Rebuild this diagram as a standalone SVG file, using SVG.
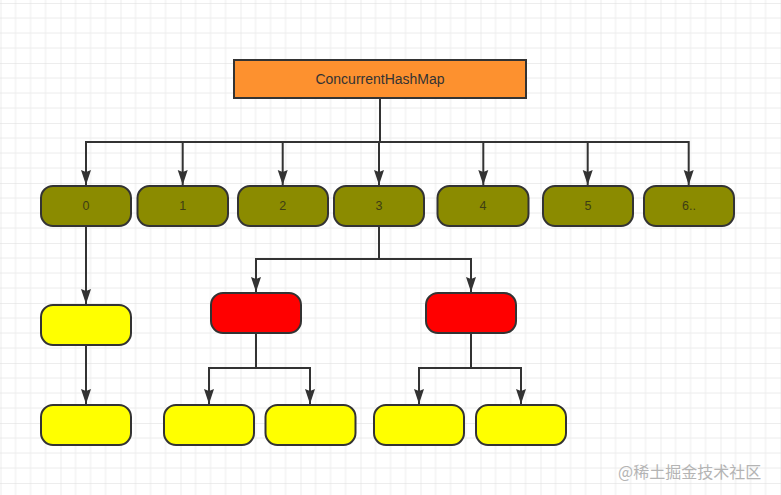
<svg xmlns="http://www.w3.org/2000/svg" width="781" height="495" viewBox="0 0 781 495">
  <defs>
    <pattern id="grid" x="0.5" y="3" width="60" height="60" patternUnits="userSpaceOnUse">
      <path d="M15 0V60M30 0V60M45 0V60M0 15H60M0 30H60M0 45H60" stroke="#ececec" stroke-width="1" fill="none"/>
      <path d="M0 0V60M0 0H60" stroke="#dcdcdc" stroke-width="1" fill="none"/>
    </pattern>
    <marker id="arr" markerUnits="userSpaceOnUse" markerWidth="16" markerHeight="12" refX="15" refY="6" orient="auto">
      <path d="M0 1L15 6L0 11L2 6Z" fill="#333"/>
    </marker>
    <style>
      .box{stroke:#333;stroke-width:2}
      .olive{fill:#8b8b00}
      .yellow{fill:#ffff00}
      .red{fill:#ff0000}
      .orange{fill:#fd912f}
      .lbl{font-family:"Liberation Sans",Arial,sans-serif;font-size:14px;fill:#333;text-anchor:middle;dominant-baseline:central}
      .num{font-family:"Liberation Sans",Arial,sans-serif;font-size:12.5px;fill:#3e3e14;text-anchor:middle;dominant-baseline:central}
      .conn path{stroke:#333;stroke-width:2;fill:none}
    </style>
  </defs>
  <rect width="781" height="495" fill="#fff"/>
  <rect width="781" height="495" fill="url(#grid)"/>

  <g id="connectors" class="conn">
    <path d="M380 98V142H86V185" marker-end="url(#arr)"/>
    <path d="M182.7 142V185" marker-end="url(#arr)"/>
    <path d="M282.7 142V185" marker-end="url(#arr)"/>
    <path d="M379 142V185" marker-end="url(#arr)"/>
    <path d="M380 142H688.7V185" marker-end="url(#arr)"/>
    <path d="M483.3 142V185" marker-end="url(#arr)"/>
    <path d="M587.7 142V185" marker-end="url(#arr)"/>
    <path d="M86 226V304" marker-end="url(#arr)"/>
    <path d="M86 345V404" marker-end="url(#arr)"/>
    <path d="M379 226V259H256V292" marker-end="url(#arr)"/>
    <path d="M379 259H471V292" marker-end="url(#arr)"/>
    <path d="M256 333V368H209V404" marker-end="url(#arr)"/>
    <path d="M256 368H310V404" marker-end="url(#arr)"/>
    <path d="M471 333V368H419V404" marker-end="url(#arr)"/>
    <path d="M471 368H521V404" marker-end="url(#arr)"/>
  </g>

  <g id="map">
    <rect class="box orange" x="234" y="60" width="292" height="38"/>
    <text class="lbl" x="380" y="79">ConcurrentHashMap</text>
  </g>

  <g id="bucket0"><rect class="box olive" x="41" y="186" width="90" height="40" rx="12"/><text class="num" x="86" y="206">0</text></g>
  <g id="bucket1"><rect class="box olive" x="137.5" y="186" width="90.5" height="40" rx="12"/><text class="num" x="182.7" y="206">1</text></g>
  <g id="bucket2"><rect class="box olive" x="238" y="186" width="90" height="40" rx="12"/><text class="num" x="282.7" y="206">2</text></g>
  <g id="bucket3"><rect class="box olive" x="334" y="186" width="90" height="40" rx="12"/><text class="num" x="379" y="206">3</text></g>
  <g id="bucket4"><rect class="box olive" x="437.5" y="186" width="91" height="40" rx="12"/><text class="num" x="483" y="206">4</text></g>
  <g id="bucket5"><rect class="box olive" x="543" y="186" width="90" height="40" rx="12"/><text class="num" x="588" y="206">5</text></g>
  <g id="bucket6"><rect class="box olive" x="644" y="186" width="90" height="40" rx="12"/><text class="num" x="689" y="206">6..</text></g>

  <g id="list0a"><rect class="box yellow" x="41" y="305" width="90" height="40" rx="12"/></g>
  <g id="list0b"><rect class="box yellow" x="41" y="405" width="90" height="40" rx="12"/></g>

  <g id="tree1"><rect class="box red" x="211" y="293" width="90" height="40" rx="12"/></g>
  <g id="tree2"><rect class="box red" x="426" y="293" width="90" height="40" rx="12"/></g>

  <g id="leaf1"><rect class="box yellow" x="164" y="405" width="90" height="40" rx="12"/></g>
  <g id="leaf2"><rect class="box yellow" x="265.5" y="405" width="90" height="40" rx="12"/></g>
  <g id="leaf3"><rect class="box yellow" x="374" y="405" width="90" height="40" rx="12"/></g>
  <g id="leaf4"><rect class="box yellow" x="476" y="405" width="90" height="40" rx="12"/></g>

  <text x="618" y="471" font-family="'Noto Sans CJK SC','Noto Sans',sans-serif" font-size="16" fill="#b4b4b4" dominant-baseline="central">@稀土掘金技术社区</text>
</svg>
